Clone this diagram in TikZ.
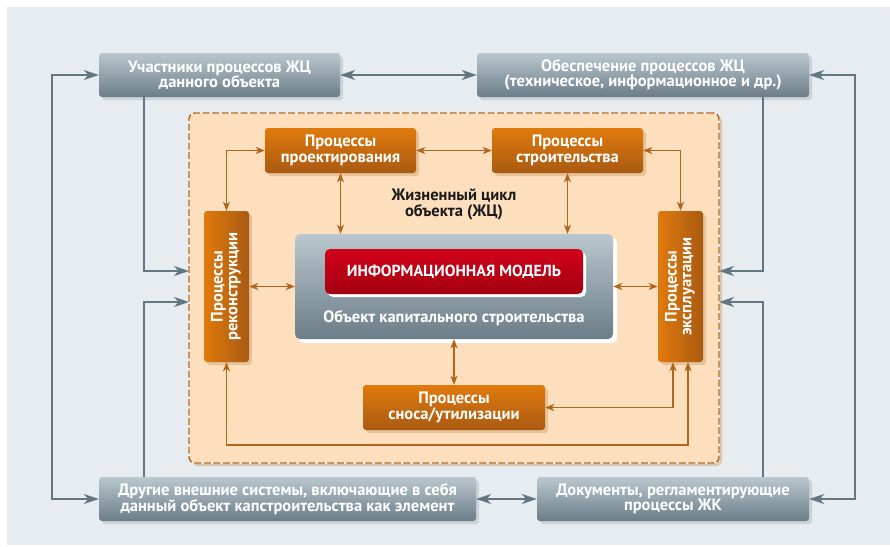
\documentclass[tikz,border=0pt]{standalone}
\usepackage{fontspec}
\setmainfont[BoldFont={PT Sans Bold}]{PT Sans}
\usetikzlibrary{arrows.meta,shadows}
\definecolor{bgpanel}{HTML}{E6ECEF}
\definecolor{graytop}{HTML}{BAC7CE}
\definecolor{graybot}{HTML}{6B7D88}
\definecolor{grayshadow}{HTML}{C9D3D8}
\definecolor{grayline}{HTML}{627782}
\definecolor{orangetop}{HTML}{E07A0C}
\definecolor{orangebot}{HTML}{A95A12}
\definecolor{orangeshadow}{HTML}{E6C298}
\definecolor{peach}{HTML}{FDDFBE}
\definecolor{zoneshadow}{HTML}{D9C6AE}
\definecolor{brownline}{HTML}{B0651B}
\definecolor{redtop}{HTML}{D2021B}
\definecolor{redbot}{HTML}{A3000F}
\definecolor{labeltext}{HTML}{1A1A1A}
\begin{document}
\begin{tikzpicture}[x=1pt,y=-1pt,
  font=\bfseries\fontsize{16.5}{15.5}\selectfont,
  gbox/.style={rounded corners=3pt, top color=graytop, bottom color=graybot, text=white, align=center, inner sep=0pt,
    drop shadow={shadow xshift=3pt, shadow yshift=-3pt, fill=grayshadow, opacity=1}},
  obox/.style={rounded corners=3pt, top color=orangetop, bottom color=orangebot, text=white, align=center, inner sep=0pt,
    drop shadow={shadow xshift=3pt, shadow yshift=-3pt, fill=orangeshadow, opacity=1}},
  vbox/.style={rounded corners=3pt, left color=orangetop, right color=orangebot, text=white, align=center, inner sep=0pt,
    drop shadow={shadow xshift=3pt, shadow yshift=-3pt, fill=orangeshadow, opacity=1}},
  oarr/.style={draw=brownline, line width=1.3pt, >={Stealth[length=9pt,width=7pt,inset=2.5pt]}},
  garr/.style={draw=grayline, line width=2pt, >={Stealth[length=15pt,width=10pt,inset=4.5pt]}}
]
\useasboundingbox (0,0) rectangle (890,546);
\fill[white] (0,0) rectangle (890,546);
\fill[bgpanel] (7,7) rectangle (890,545);

% zone
\node (zone) [fill=peach, draw=white, line width=1.4pt, rounded corners=6pt, minimum width=530, minimum height=350, inner sep=0pt,
  drop shadow={shadow xshift=3pt, shadow yshift=-3pt, fill=zoneshadow, opacity=1},
  postaction={draw=brownline, line width=1.4pt, dash pattern=on 7pt off 2.5pt}] at (454,288) {};

% outer boxes
\node (ucast) [gbox, minimum width=241, minimum height=44] at (219.5,75) {Участники процессов ЖЦ\\данного объекта};
\node (obesp) [gbox, minimum width=332, minimum height=44] at (643,75) {Обеспечение процессов ЖЦ\\(техническое, информационное и др.)};
\node (drug) [gbox, minimum width=377, minimum height=44] at (287.5,499) {Другие внешние системы, включающие в себя\\данный объект капстроительства как элемент};
\node (doc) [gbox, minimum width=272, minimum height=44] at (673,499) {Документы, регламентирующие\\процессы ЖК};

% process boxes
\node (proj) [obox, minimum width=151, minimum height=45] at (340.5,150.5) {Процессы\\проектирования};
\node (stroi) [obox, minimum width=151, minimum height=45] at (567.5,150.5) {Процессы\\строительства};
\node (snos) [obox, minimum width=182, minimum height=45] at (454,407.5) {Процессы\\сноса/утилизации};
\node (rek) [vbox, minimum width=45, minimum height=151] at (226.5,286.5)
  {\rotatebox{90}{\renewcommand\arraystretch{0.95}\begin{tabular}{@{}c@{}}Процессы\\реконструкции\end{tabular}}};
\node (expl) [vbox, minimum width=45, minimum height=151] at (680.5,286.5)
  {\rotatebox{90}{\renewcommand\arraystretch{0.95}\begin{tabular}{@{}c@{}}Процессы\\эксплуатации\end{tabular}}};

% central object
\node (obj) [rounded corners=5pt, top color=graytop, bottom color=graybot, minimum width=318, minimum height=105, inner sep=0pt,
  drop shadow={shadow xshift=4pt, shadow yshift=-4pt, fill=white, opacity=1}] at (454,286.5) {};
\node (info) [rounded corners=5pt, top color=redtop, bottom color=redbot, text=white, minimum width=258, minimum height=45, inner sep=0pt,
  font=\bfseries\fontsize{16}{17}\selectfont,
  drop shadow={shadow xshift=3pt, shadow yshift=-3pt, fill=white, opacity=1}] at (454,271.5) {ИНФОРМАЦИОННАЯ МОДЕЛЬ};
\node (objtxt) [text=white, font=\bfseries\fontsize{16.5}{16}\selectfont] at (454,318) {Объект капитального строительства};

\node (zhc) [text=labeltext, align=center] at (454,204.5) {Жизненный цикл\\объекта (ЖЦ)};

% coordinates
\coordinate (lt) at (52,75);
\coordinate (lb) at (52,499);
\coordinate (rt) at (855,75);
\coordinate (rb) at (855,499);
\coordinate (zl1) at (189,271);
\coordinate (zl2) at (189,302);
\coordinate (zr1) at (719,271);
\coordinate (zr2) at (719,302);
\coordinate (loopL) at (226.5,445);
\coordinate (loopR) at (688,445);

% gray connectors
\draw[garr,<->] (ucast.east) -- (obesp.west);
\draw[garr,<->] (drug.east) -- (doc.west);
\draw[garr,<->] (ucast.west) -- (lt) -- (lb) -- (drug.west);
\draw[garr,<->] (obesp.east) -- (rt) -- (rb) -- (doc.east);
\draw[garr,->] ([xshift=-75.5pt]ucast.south) |- (zl1);
\draw[garr,->] ([xshift=-143.5pt]drug.north) |- (zl2);
\draw[garr,->] ([xshift=120pt]obesp.south) |- (zr1);
\draw[garr,->] ([xshift=90pt]doc.north) |- (zr2);

% orange connectors
\draw[oarr,<->] (proj.east) -- (stroi.west);
\draw[oarr,<->] (rek.north) |- (proj.west);
\draw[oarr,<->] (stroi.east) -| (expl.north);
\draw[oarr,<->] (proj.south) -- (proj.south |- obj.north);
\draw[oarr,<->] (stroi.south) -- (stroi.south |- obj.north);
\draw[oarr,<->] (rek.east) -- (obj.west);
\draw[oarr,<->] (obj.east) -- (expl.west);
\draw[oarr,<->] (obj.south) -- (snos.north);
\draw[oarr,<->] (snos.east) -| ([xshift=-7.5pt]expl.south);
\draw[oarr,<->] (rek.south) -- (loopL) -- (loopR) -- ([xshift=7.5pt]expl.south);
\end{tikzpicture}
\end{document}
